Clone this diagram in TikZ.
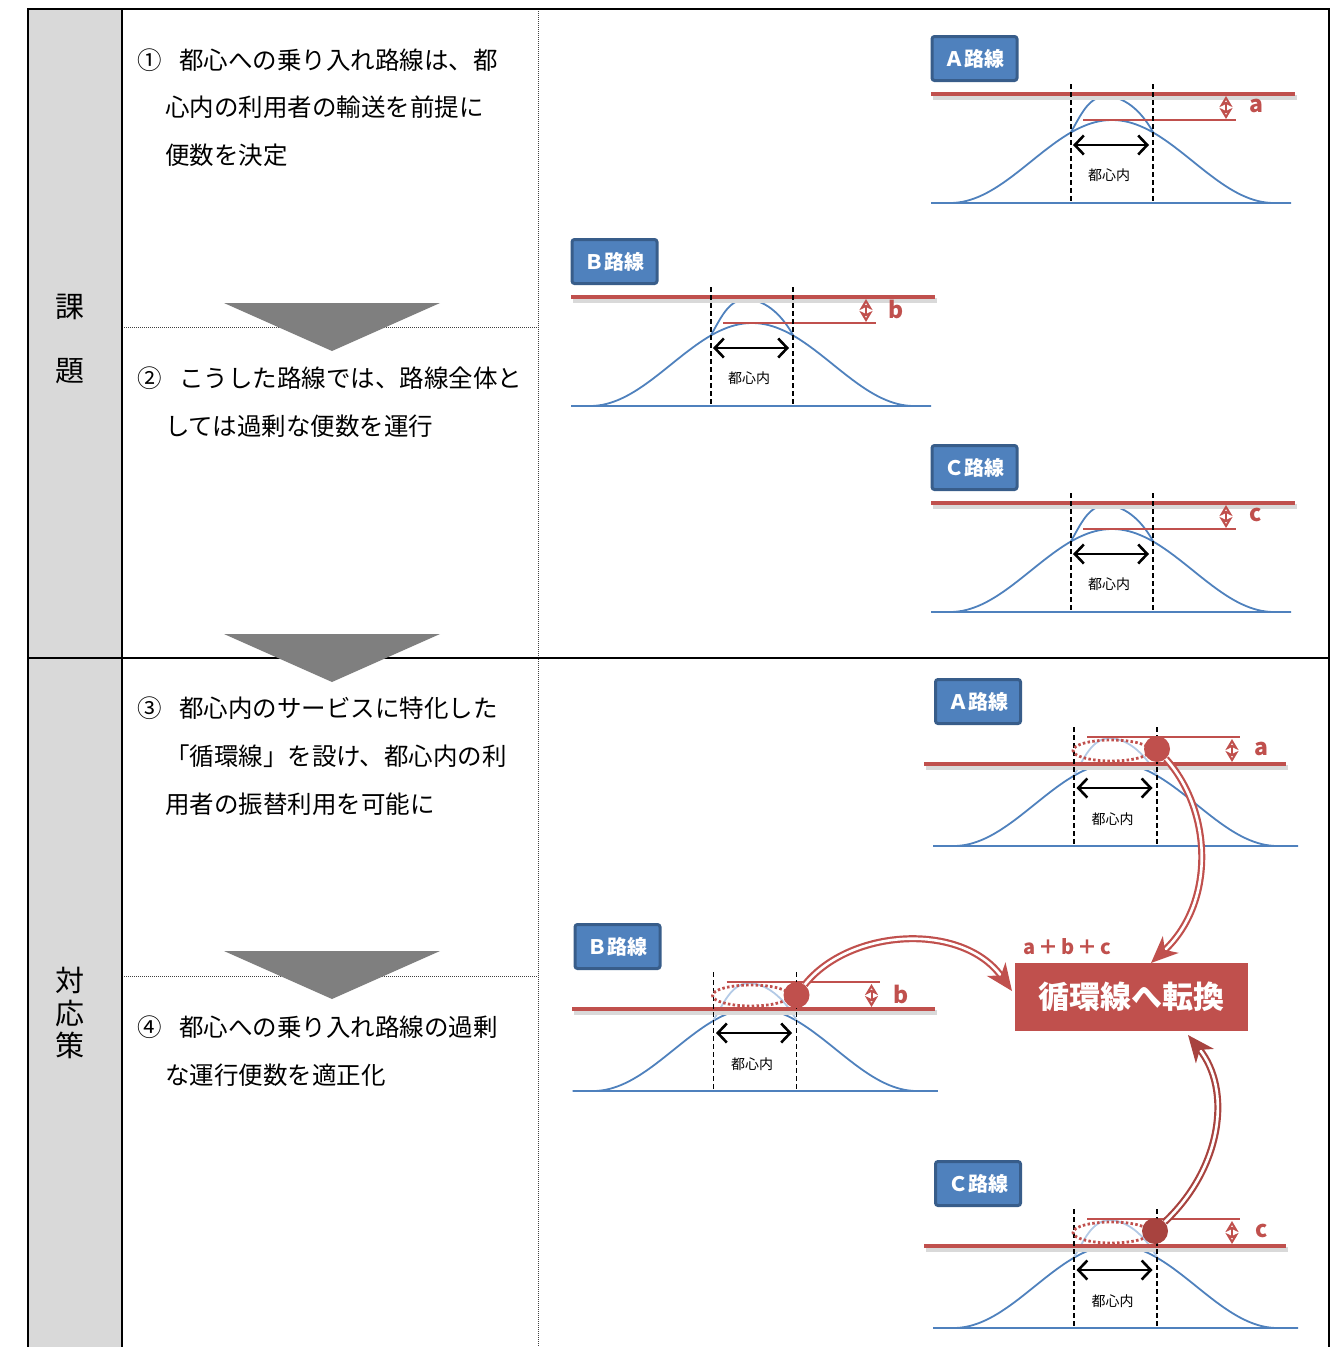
\documentclass[tikz,border=0pt]{standalone}
\usepackage{fontspec}
\setmainfont{Noto Sans CJK JP}
\usetikzlibrary{arrows.meta,calc}
\definecolor{rd}{HTML}{C0504D}
\definecolor{rdd}{HTML}{A8433F}
\definecolor{bl}{HTML}{4F81BD}
\definecolor{bld}{HTML}{385D8A}
\definecolor{blf}{HTML}{B3CAE6}
\definecolor{colg}{HTML}{D9D9D9}
\definecolor{trig}{HTML}{7F7F7F}
\tikzset{
  body/.style={anchor=west, inner sep=0, font=\fontsize{24.5}{26}\selectfont},
  headch/.style={inner sep=0, font=\fontsize{29}{30}\selectfont},
  tabline/.style={black, line width=2},
  dotline/.style={black!75, line width=0.8, dash pattern=on 1 off 1},
  tri/.style={fill=trig},
  shadowline/.style={black!15, line width=5},
  redthick/.style={rd, line width=3.4},
  redthin/.style={rd, line width=1.4},
  bluecurve/.style={bl, line width=1.8},
  fadecurve/.style={blf, line width=1.8},
  dashv/.style={black, line width=1.6, dash pattern=on 5 off 3},
  blackarrow/.style={black, line width=2.6, {Straight Barb[length=9,width=19,line width=2.6]}-{Straight Barb[length=9,width=19,line width=2.6]}},
  reddbl/.style={rd, line width=2, {Stealth[open,length=11,width=13,inset=3]}-{Stealth[open,length=11,width=13,inset=3]}},
  smalltxt/.style={inner sep=0, font=\fontsize{14}{14}\selectfont},
  lettr/.style={inner sep=0, text=rd, font=\fontsize{23}{23}\bfseries},
  labelbox/.style={draw=bld, fill=bl, line width=3, rounded corners=2.5, minimum width=85, minimum height=44, inner sep=0, text=white, font=\fontsize{20}{20}\bfseries},
  ellip/.style={rd, line width=2.8, dash pattern=on 2.5 off 2.3},
  reddot/.style={circle, fill=rd, minimum size=26, inner sep=0},
  bigarrow/.style={line width=2.2, double=white, double distance=2.6, -{Stealth[length=27,width=23,inset=8]}},
}
\newcommand\toppanel[5]{%
  \begin{scope}[shift={(#2,#3)}]
    \draw[bluecurve] (-181,0) -- (-162,0) -- plot[domain=-162:162, samples=81, smooth] (\x, {-41.5*(1+cos(1.1111*\x))}) -- (179,0);
    \draw[bluecurve] (-181,0) -- (179,0);
    \draw[bluecurve] (-41,-71) .. controls (-31,-88) and (-24,-106) .. (-6,-107) .. controls (12,-106) and (28,-94) .. (41,-71);
    \draw[shadowline] (-179,-105.5) -- (185,-105.5);
    \draw[redthick] (-181,-109) -- (183,-109);
    \draw[redthin] (-29,-83) -- (124,-83);
    \draw[dashv] (-41,-119) -- (-41,-2);
    \draw[dashv] (41,-119) -- (41,-2);
    \draw[blackarrow] (-39,-58) -- (37,-58);
    \node[smalltxt] (#1in) at (-3,-28) {都心内};
    \draw[reddbl] (114,-107) -- (114,-84);
    \node[lettr] (#1let) at (144,-97) {#5};
    \node[labelbox] (#1lab) at (-137.5,-144.5) {#4};
  \end{scope}}
\newcommand\botpanel[7]{%
  \begin{scope}[shift={(#2,#3)}]
    \draw[bluecurve] (-182.5,0) -- (-162,0) -- plot[domain=-162:162, samples=81, smooth] (\x, {-41.5*(1+cos(1.1111*\x))}) -- (182.5,0);
    \draw[bluecurve] (-182.5,0) -- (182.5,0);
    \draw[fadecurve] (-41.5,-71) .. controls (-31,-88) and (-24,-107) .. (-6,-108) .. controls (12,-107) and (28,-94) .. (41.5,-71);
    \draw[shadowline] (#6+2,-78.5) -- (#7+2,-78.5);
    \draw[redthick] (#6,-82) -- (#7,-82);
    \draw[redthin] (-28.5,-109) -- (124.5,-109);
    \draw[dashv] (-41.5,-119) -- (-41.5,-1);
    \draw[dashv] (41.5,-119) -- (41.5,-1);
    \draw[blackarrow] (-39,-58) -- (37,-58);
    \node[smalltxt] (#1in) at (-3,-27) {都心内};
    \draw[reddbl] (116.5,-107) -- (116.5,-84);
    \node[lettr] (#1let) at (146,-97) {#5};
    \node[labelbox] (#1lab) at (-137.5,-144.5) {#4};
    \draw[ellip] (-4,-95.5) ellipse [x radius=38.5, y radius=10.5];
  \end{scope}}
\begin{document}
\begin{tikzpicture}[x=1pt,y=-1pt]
\useasboundingbox (0,0) rectangle (1338,1347);
% grey header column
\fill[colg] (28,9) rectangle (122,1347);
% table lines
\draw[dotline] (538,9) -- (538,1347);
\draw[dotline] (122,327) -- (538,327);
\draw[dotline] (122,976) -- (538,976);
\draw[tabline] (28,1347) -- (28,9) -- (1329,9) -- (1329,1347);
\draw[tabline] (122,9) -- (122,1347);
\draw[tabline] (28,658) -- (1329,658);
% header characters
\node[headch] (h1) at (70,307) {課};
\node[headch] (h2) at (70,371) {題};
\node[headch] (h3) at (70,980) {対};
\node[headch] (h4) at (70,1013) {応};
\node[headch] (h5) at (70,1045) {策};
% grey arrows
\fill[tri] (224,303) -- (440,303) -- (332,351) -- cycle;
\fill[tri] (224,634) -- (440,634) -- (332,682) -- cycle;
\fill[tri] (224,951) -- (440,951) -- (332,999) -- cycle;
% body text
\node[body] (n1) at (137,60) {①};
\node[body] (t1a) at (179,60) {都心への乗り入れ路線は、都};
\node[body] (t1b) at (165,107) {心内の利用者の輸送を前提に};
\node[body] (t1c) at (165,155) {便数を決定};
\node[body] (n2) at (137,378) {②};
\node[body] (t2a) at (179,378) {こうした路線では、路線全体と};
\node[body] (t2b) at (165,426) {しては過剰な便数を運行};
\node[body] (n3) at (137,708) {③};
\node[body] (t3a) at (179,708) {都心内のサービスに特化した};
\node[body] (t3b) at (165,756) {「循環線」を設け、都心内の利};
\node[body] (t3c) at (165,804) {用者の振替利用を可能に};
\node[body] (n4) at (137,1027) {④};
\node[body] (t4a) at (179,1027) {都心への乗り入れ路線の過剰};
\node[body] (t4b) at (165,1075) {な運行便数を適正化};
% upper panels
\toppanel{pA}{1112}{203}{Ａ路線}{a}
\toppanel{pB}{752}{406}{Ｂ路線}{b}
\toppanel{pC}{1112}{612}{Ｃ路線}{c}
% lower panels
\botpanel{qA}{1115.5}{846}{Ａ路線}{a}{-191.5}{170.5}
\botpanel{qB}{755}{1091}{Ｂ路線}{b}{-183}{180}
\botpanel{qC}{1115.5}{1328}{Ｃ路線}{c}{-191.5}{170.5}
% target box
\node[fill=rd, minimum width=233, minimum height=68, inner sep=0, text=white, font=\fontsize{31}{31}\bfseries] (circ) at (1131.5,997) {循環線へ転換};
\node[inner sep=0, text=rd, font=\fontsize{20}{20}\bfseries] (sum) at (1067,947) {a\hspace{3pt}＋\hspace{3pt}b\hspace{3pt}＋\hspace{3pt}c};
% dots
\node[reddot] (dA) at (1157,749) {};
\node[reddot] (dB) at (796.5,995) {};
\node[reddot, fill=rdd] (dC) at (1155,1231) {};
% curved double arrows
\coordinate (eA) at (1151,963);
\coordinate (eB) at (1012,991);
\coordinate (eC) at (1188,1035);
\draw[bigarrow, rd] (dA) .. controls (1212,810) and (1216,902) .. (eA);
\draw[bigarrow, rd] (dB) .. controls (850,928) and (962,922) .. (eB);
\draw[bigarrow, rdd] (dC) .. controls (1222,1168) and (1232,1090) .. (eC);
\end{tikzpicture}
\end{document}
